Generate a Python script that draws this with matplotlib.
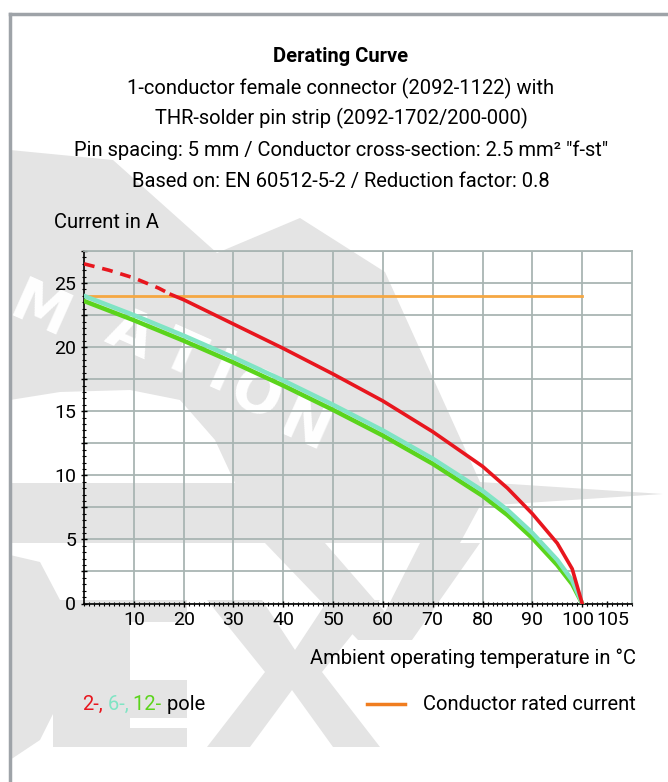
import matplotlib
matplotlib.use("Agg")
import matplotlib.pyplot as plt
from matplotlib import transforms as mtrans
from matplotlib.patches import Polygon
from matplotlib.lines import Line2D
from matplotlib.ticker import MultipleLocator, FuncFormatter

plt.rcParams["font.family"] = ["Roboto", "DejaVu Sans"]

# --- data ---
temp_2p_dash = [0, 5, 10, 15, 17.5]
cur_2p_dash = [26.5, 26.0, 25.4, 24.6, 24.1]
temp_2p = [17.5, 20, 30, 40, 50, 60, 70, 80, 85, 90, 95, 98, 100]
cur_2p = [24.1, 23.7, 21.8, 19.9, 17.9, 15.8, 13.4, 10.7, 9.0, 7.0, 4.7, 2.7, 0]
temp_poles = [0, 10, 20, 30, 40, 50, 60, 70, 80, 85, 90, 95, 98, 100]
cur_6p = [24.0, 22.5, 20.9, 19.2, 17.4, 15.5, 13.5, 11.3, 8.8, 7.3, 5.5, 3.4, 1.8, 0]
cur_12p = [23.6, 22.1, 20.5, 18.8, 17.0, 15.1, 13.1, 10.9, 8.4, 6.9, 5.1, 3.0, 1.5, 0]
rated_temp = [0, 100]
rated_current = [24, 24]
x_ticks = [10, 20, 30, 40, 50, 60, 70, 80, 90, 100, 105]

title_lines = [
    "1-conductor female connector (2092-1122) with",
    "THR-solder pin strip (2092-1702/200-000)",
    "Pin spacing: 5 mm / Conductor cross-section: 2.5 mm² \"f-st\"",
    "Based on: EN 60512-5-2 / Reduction factor: 0.8",
]

W, H = 668, 782
FS = 14.5
fig = plt.figure(figsize=(W / 100, H / 100), dpi=100)


def fp(x, y):
    return (x / W, 1 - y / H)


def poly(pts, color, z):
    fig.patches.append(Polygon([fp(*p) for p in pts], closed=True, transform=fig.transFigure,
                               facecolor=color, edgecolor="none", zorder=z))


# watermark (light grey, behind the plot)
wm = "#e4e4e4"
poly([(10, 150), (113, 160), (217, 253), (300, 218), (385, 272), (480, 482), (663, 494),
      (480, 506), (460, 543), (10, 543)], wm, 0)
poly([(10, 400), (60, 392), (130, 390), (180, 400), (215, 440), (235, 483), (10, 483)], "white", 0.2)
poly([(265, 543), (325, 543), (385, 612), (420, 543), (480, 543), (412, 640), (358, 640)], wm, 0)
poly([(10, 555), (40, 562), (60, 600), (60, 700), (40, 740), (10, 760)], wm, 0)
poly([(53, 600), (187, 600), (187, 747), (53, 747)], wm, 0)
poly([(130, 622), (187, 622), (187, 680), (130, 680)], "white", 0.2)
poly([(130, 718), (187, 718), (187, 728), (130, 728)], "white", 0.2)
poly([(207, 600), (262, 600), (295, 650), (328, 600), (380, 600), (322, 672), (380, 747),
      (333, 747), (292, 690), (250, 747), (207, 747), (265, 672)], wm, 0)
for ch, (cx, cy) in zip("MATION", [(40, 312), (130, 335), (182, 355), (220, 375), (255, 396), (305, 428)]):
    fig.text(*fp(cx, cy), ch, rotation=-24, color="white", fontsize=42, fontweight="bold",
             family="DejaVu Sans", ha="center", va="center", rotation_mode="anchor", zorder=0.4)

# frame lines
fig.add_artist(Line2D([10 / W, 10 / W], [0, 1 - 14 / H], transform=fig.transFigure,
                      color="#9ea3a8", lw=2.5))
fig.add_artist(Line2D([10 / W, 1], [1 - 14 / H, 1 - 14 / H], transform=fig.transFigure,
                      color="#9ea3a8", lw=2.5))

# titles
fig.text(*fp(341, 57), "Derating Curve", ha="center", va="center", fontsize=FS,
         fontweight="bold")
for i, t in enumerate(title_lines):
    fig.text(*fp(341, [88, 118, 150, 181][i]), t, ha="center", va="center", fontsize=FS)

fig.text(*fp(54, 222), "Current in A", ha="left", va="center", fontsize=FS)

ax = fig.add_axes([84 / W, 1 - 603.5 / H, (632 - 84) / W, (603.5 - 251) / H])
ax.set_zorder(1)
ax.set_facecolor("none")
ax.set_xlim(0, 110)
ax.set_ylim(0, 27.5)

grid_c = "#a9b5b3"
ax.set_xticks(x_ticks)
ax.yaxis.set_major_locator(MultipleLocator(2.5))
ax.yaxis.set_major_formatter(FuncFormatter(lambda v, p: f"{v:.0f}" if v % 5 == 0 else ""))
ax.yaxis.set_minor_locator(MultipleLocator(0.5))
ax.xaxis.set_minor_locator(MultipleLocator(1))
ax.grid(True, which="major", color=grid_c, lw=1.3)
ax.get_xgridlines()[-1].set_visible(False)
ax.set_axisbelow(True)
ax.tick_params(which="major", direction="inout", length=5, width=1, labelsize=14, pad=3)
ax.tick_params(which="minor", direction="inout", length=3, width=0.8)
for sp in ["top", "right"]:
    ax.spines[sp].set_color(grid_c)
    ax.spines[sp].set_linewidth(1.3)
for sp in ["left", "bottom"]:
    ax.spines[sp].set_color("black")
    ax.spines[sp].set_linewidth(1.2)

# nudge the crowded 100 / 105 labels apart
xlabels = ax.get_xticklabels()
for lab, dx in [(xlabels[-2], -4), (xlabels[-1], 6)]:
    lab.set_transform(lab.get_transform() + mtrans.ScaledTranslation(dx / 100, 0, fig.dpi_scale_trans))

ax.plot(rated_temp, rated_current, color="#f5a742", lw=2, zorder=3)
ax.plot(temp_poles, cur_12p, color="#5bd41c", lw=3.2, zorder=4)
ax.plot(temp_poles, cur_6p, color="#80e4c4", lw=3.2, zorder=5)
ax.plot(temp_2p_dash, cur_2p_dash, color="#e8161e", lw=2.6, ls=(0, (3, 2.2)), zorder=6)
ax.plot(temp_2p, cur_2p, color="#e8161e", lw=2.6, zorder=6)

fig.text(*fp(636, 658), "Ambient operating temperature in °C", ha="right", va="center",
         fontsize=FS)

# legend
fig.canvas.draw()
r = fig.canvas.get_renderer()
x0 = 82
for s, c in [("2-,", "#e8161e"), (" 6-,", "#80e4c4"), (" 12-", "#5bd41c"), (" pole", "black")]:
    t = fig.text(*fp(x0, 704), s, color=c, ha="left", va="center", fontsize=FS)
    x0 += t.get_window_extent(r).width
fig.add_artist(Line2D([367 / W, 405 / W], [1 - 704 / H] * 2, transform=fig.transFigure,
                      color="#f07d1f", lw=2.5))
fig.text(*fp(636, 704), "Conductor rated current", ha="right", va="center", fontsize=FS)

fig.savefig("out.png", dpi=100)
